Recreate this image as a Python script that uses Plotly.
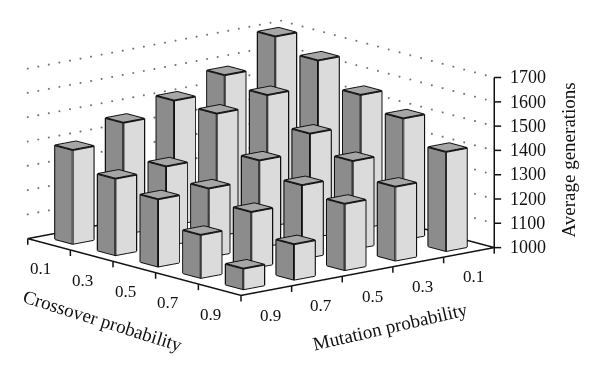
import plotly.graph_objects as go
import numpy as np

crossover = [0.1, 0.3, 0.5, 0.7, 0.9]
mutation = [0.9, 0.7, 0.5, 0.3, 0.1]
gens_m09 = [1386, 1315, 1277, 1177, 1085]
gens_m07 = [1459, 1326, 1282, 1232, 1146]
gens_m05 = [1511, 1504, 1358, 1303, 1273]
gens_m03 = [1576, 1541, 1429, 1363, 1304]
gens_m01 = [1696, 1644, 1549, 1499, 1408]
gens = [gens_m09, gens_m07, gens_m05, gens_m03, gens_m01]
z_ticks = [1000, 1100, 1200, 1300, 1400, 1500, 1600, 1700]

FONT = "Liberation Serif"
HW = 0.0413          # half bar width in data units
C_TOP, C_LEFT, C_RIGHT = "#a6a6a6", "#8c8c8c", "#dbdbdb"
BASE = 1000

vx, vy, vz, fi, fj, fk, fc = [], [], [], [], [], [], []
ex, ey, ez = [], [], []


def quad(pts, col):
    n = len(vx)
    for p in pts:
        vx.append(p[0]); vy.append(p[1]); vz.append(p[2])
    fi.extend([n, n]); fj.extend([n + 1, n + 2]); fk.extend([n + 2, n + 3])
    fc.extend([col, col])


def seg(pts):
    for p in pts:
        ex.append(p[0]); ey.append(p[1]); ez.append(p[2])
    ex.append(None); ey.append(None); ez.append(None)


for jm, m in enumerate(mutation):
    for ic, c in enumerate(crossover):
        h = gens[jm][ic]
        x0, x1, y0, y1 = c - HW, c + HW, m - HW, m + HW
        quad([(x0, y1, BASE), (x1, y1, BASE), (x1, y1, h), (x0, y1, h)], C_LEFT)
        quad([(x1, y1, BASE), (x1, y0, BASE), (x1, y0, h), (x1, y1, h)], C_RIGHT)
        quad([(x0, y0, h), (x1, y0, h), (x1, y1, h), (x0, y1, h)], C_TOP)
        seg([(x0, y1, BASE), (x1, y1, BASE), (x1, y0, BASE)])
        seg([(x0, y1, BASE), (x0, y1, h), (x1, y1, h), (x1, y0, h), (x1, y0, BASE)])
        seg([(x1, y1, BASE), (x1, y1, h)])
        seg([(x0, y1, h), (x0, y0, h), (x1, y0, h)])

fig = go.Figure()
fig.add_trace(go.Mesh3d(x=vx, y=vy, z=vz, i=fi, j=fj, k=fk, facecolor=fc, flatshading=True,
                        lighting=dict(ambient=1, diffuse=0, specular=0, roughness=1, fresnel=0),
                        showscale=False, hoverinfo="skip"))
fig.add_trace(go.Scatter3d(x=ex, y=ey, z=ez, mode="lines", line=dict(color="#111111", width=3.8),
                           hoverinfo="skip", showlegend=False))

# floor outline and axis ticks
ax, ay, az = [], [], []


def aseg(p, q):
    ax.extend([p[0], q[0], None]); ay.extend([p[1], q[1], None]); az.extend([p[2], q[2], None])


aseg((0, 1, 1000), (1, 1, 1000))
aseg((1, 1, 1000), (1, 0, 1000))
aseg((0, 1, 1000), (0, 0, 1000))
aseg((0, 0, 1000), (1, 0, 1000))
aseg((1, 0, 1000), (1, 0, 1700))
for t in np.linspace(0, 1, 6):
    aseg((t, 1, 1000), (t, 1, 975))
    aseg((1, t, 1000), (1, t, 975))
for z in z_ticks:
    aseg((1, 0, z), (1.0138, -0.0158, z))
fig.add_trace(go.Scatter3d(x=ax, y=ay, z=az, mode="lines", line=dict(color="#111111", width=3),
                           hoverinfo="skip", showlegend=False))

# dotted wall grid lines
dx, dy, dz = [], [], []
for z in z_ticks[1:]:
    for t in np.linspace(0, 1, 25):
        dx.append(0); dy.append(t); dz.append(z)
    for t in np.linspace(0, 0.96, 20):
        dx.append(t); dy.append(0); dz.append(z)
fig.add_trace(go.Scatter3d(x=dx, y=dy, z=dz, mode="markers",
                           marker=dict(color="#777777", size=1.2, line=dict(width=0)),
                           hoverinfo="skip", showlegend=False))

annos = []
for c in crossover:
    annos.append(dict(x=c, y=1, z=1000, text=f"{c:.1f}", showarrow=False, xshift=-9, yshift=-25,
                      font=dict(family=FONT, size=17, color="#111")))
for m in mutation:
    annos.append(dict(x=1, y=m, z=1000, text=f"{m:.1f}", showarrow=False, xshift=4.5, yshift=-25,
                      font=dict(family=FONT, size=17, color="#111")))
for z in z_ticks:
    annos.append(dict(x=1, y=0, z=z, text=str(z), showarrow=False, xanchor="left", xshift=13.5,
                      font=dict(family=FONT, size=18, color="#111")))

eye_dist = 3.0
e = np.radians(12.96)
phi = np.radians(40.1)
fig.update_layout(
    width=600, height=375, margin=dict(l=0, r=0, t=0, b=0), paper_bgcolor="white", showlegend=False,
    scene=dict(
        domain=dict(x=[0, 0.87], y=[0.148, 1]),
        xaxis=dict(visible=False, range=[-0.02, 1.02]),
        yaxis=dict(visible=False, range=[1.02, -0.02]),
        zaxis=dict(visible=False, range=[970, 1710]),
        aspectmode="manual",
        aspectratio=dict(x=2.152, y=2.152, z=1.153),
        camera=dict(projection=dict(type="orthographic"),
                    up=dict(x=0, y=0, z=1), center=dict(x=0.0403, y=0.0315, z=-0.0457),
                    eye=dict(x=float(0.0403 + eye_dist * np.cos(phi) * np.cos(e)),
                             y=float(0.0315 - eye_dist * np.sin(phi) * np.cos(e)),
                             z=float(-0.0457 + eye_dist * np.sin(e)))),
        annotations=annos,
    ),
    annotations=[
        dict(xref="paper", yref="paper", x=94.5 / 600, y=1 - 312.2 / 375, xanchor="center", yanchor="middle",
             text="Crossover probability", showarrow=False, textangle=17.5,
             font=dict(family=FONT, size=19, color="#111")),
        dict(xref="paper", yref="paper", x=382 / 600, y=1 - 318.2 / 375, xanchor="center", yanchor="middle",
             text="Mutation probability", showarrow=False, textangle=-13,
             font=dict(family=FONT, size=19, color="#111")),
        dict(xref="paper", yref="paper", x=560 / 600, y=1 - 152.5 / 375, xanchor="center", yanchor="middle",
             text="Average generations", showarrow=False, textangle=-90,
             font=dict(family=FONT, size=19, color="#111")),
    ],
)
fig.write_html("out.html")
